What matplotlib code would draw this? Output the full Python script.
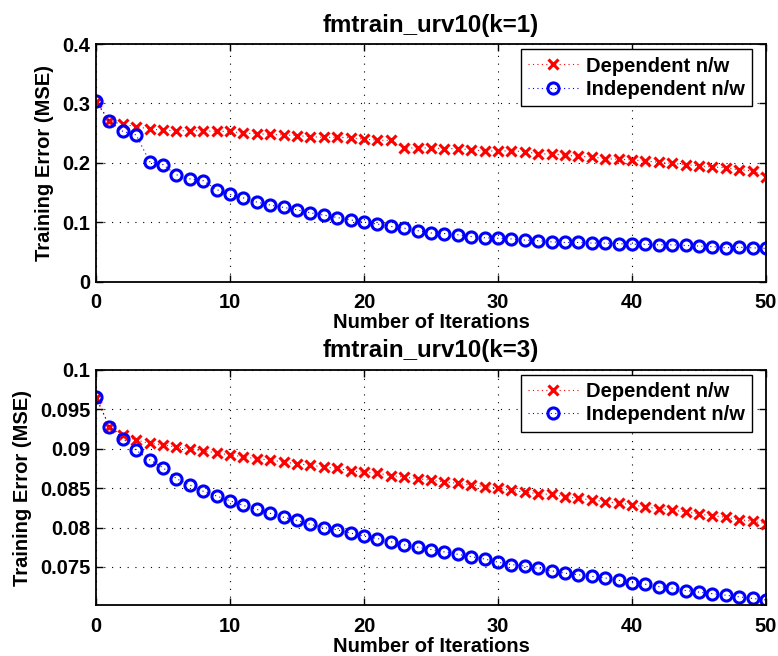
import matplotlib
matplotlib.use("Agg")
import matplotlib.pyplot as plt
from matplotlib.ticker import FuncFormatter
import numpy as np

plt.rcParams['font.family'] = ['Liberation Sans', 'DejaVu Sans']
plt.rcParams['font.weight'] = 'bold'
plt.rcParams['font.size'] = 14.5

iters = np.arange(0, 51)

# k=1 run
dep_k1 = [0.303, 0.270, 0.265, 0.261, 0.257, 0.255, 0.254, 0.254, 0.254, 0.253,
          0.253, 0.250, 0.249, 0.248, 0.247, 0.246, 0.244, 0.243, 0.243, 0.242,
          0.240, 0.238, 0.238, 0.225, 0.225, 0.225, 0.224, 0.224, 0.222, 0.220,
          0.220, 0.220, 0.219, 0.215, 0.215, 0.213, 0.211, 0.210, 0.207, 0.206,
          0.205, 0.203, 0.201, 0.199, 0.197, 0.195, 0.193, 0.192, 0.188, 0.187,
          0.177]
ind_k1 = [0.304, 0.270, 0.253, 0.247, 0.202, 0.197, 0.180, 0.173, 0.170, 0.155,
          0.147, 0.141, 0.134, 0.129, 0.125, 0.121, 0.116, 0.112, 0.108, 0.104,
          0.100, 0.097, 0.093, 0.090, 0.086, 0.082, 0.081, 0.079, 0.076, 0.074,
          0.073, 0.072, 0.070, 0.069, 0.067, 0.066, 0.066, 0.065, 0.065, 0.064,
          0.063, 0.063, 0.062, 0.062, 0.061, 0.060, 0.059, 0.057, 0.058, 0.057,
          0.056]

# k=3 run
dep_k3 = [0.0965, 0.0928, 0.0917, 0.0911, 0.0907, 0.0905, 0.0902, 0.0900, 0.0897, 0.0895,
          0.0892, 0.0890, 0.0887, 0.0886, 0.0883, 0.0881, 0.0879, 0.0877, 0.0875, 0.0872,
          0.0870, 0.0869, 0.0866, 0.0864, 0.0862, 0.0860, 0.0858, 0.0856, 0.0854, 0.0852,
          0.0850, 0.0847, 0.0845, 0.0843, 0.0842, 0.0839, 0.0837, 0.0835, 0.0833, 0.0831,
          0.0829, 0.0826, 0.0824, 0.0822, 0.0820, 0.0817, 0.0815, 0.0813, 0.0810, 0.0808,
          0.0805]
ind_k3 = [0.0966, 0.0928, 0.0913, 0.0898, 0.0886, 0.0876, 0.0862, 0.0854, 0.0846, 0.0840,
          0.0834, 0.0828, 0.0823, 0.0818, 0.0813, 0.0809, 0.0804, 0.0800, 0.0797, 0.0793,
          0.0789, 0.0786, 0.0782, 0.0778, 0.0775, 0.0772, 0.0769, 0.0766, 0.0763, 0.0760,
          0.0756, 0.0753, 0.0751, 0.0748, 0.0745, 0.0742, 0.0740, 0.0738, 0.0736, 0.0733,
          0.0730, 0.0728, 0.0725, 0.0723, 0.0720, 0.0718, 0.0716, 0.0714, 0.0712, 0.0710,
          0.0708]

titles = ["fmtrain_urv10(k=1)", "fmtrain_urv10(k=3)"]
yticks = [[0, 0.1, 0.2, 0.3, 0.4], [0.075, 0.08, 0.085, 0.09, 0.095, 0.1]]
ylims = [(0, 0.4), (0.0701, 0.1)]
series = [(dep_k1, ind_k1), (dep_k3, ind_k3)]

fig = plt.figure(figsize=(7.78, 6.56), dpi=100)
ax1 = fig.add_axes([0.1234, 0.5706, 0.8612, 0.3623])
ax2 = fig.add_axes([0.1234, 0.0770, 0.8612, 0.3590])

for ax, title, yt, yl, (dep, ind) in zip([ax1, ax2], titles, yticks, ylims, series):
    ax.plot(iters, dep, color='red', linestyle=(0, (1, 3)), linewidth=0.8,
            marker='x', markersize=6.5, markeredgewidth=2.2, label='Dependent n/w')
    ax.plot(iters, ind, color='blue', linestyle=(0, (1, 3)), linewidth=0.8,
            marker='o', markersize=8, markeredgewidth=2.2, markerfacecolor='none',
            label='Independent n/w')
    ax.set_xlim(0, 50)
    ax.set_ylim(*yl)
    ax.set_xticks([0, 10, 20, 30, 40, 50])
    ax.set_yticks(yt)
    ax.yaxis.set_major_formatter(FuncFormatter(lambda v, p: '%g' % round(v, 4)))
    ax.grid(True, color='black', linestyle=(0, (1, 6)), linewidth=0.8)
    ax.tick_params(direction='in', length=5, width=1, top=True, right=True)
    ax.tick_params(axis='x', pad=8)
    ax.tick_params(axis='y', pad=4)
    for s in ax.spines.values():
        s.set_linewidth(1.3)
    ax.set_title(title, fontweight='bold', pad=9)
    ax.set_xlabel('Number of Iterations', fontweight='bold', labelpad=1)
    ax.set_ylabel('Training Error (MSE)', fontweight='bold', labelpad=6)
    leg = ax.legend(loc='upper right', bbox_to_anchor=(0.979, 0.977), borderaxespad=0,
                    fancybox=False, edgecolor='black', framealpha=1,
                    handlelength=2.5, handletextpad=0.4, borderpad=0.35,
                    labelspacing=0.2)
    leg.get_frame().set_linewidth(1.0)

fig.savefig('out.png', dpi=100)
